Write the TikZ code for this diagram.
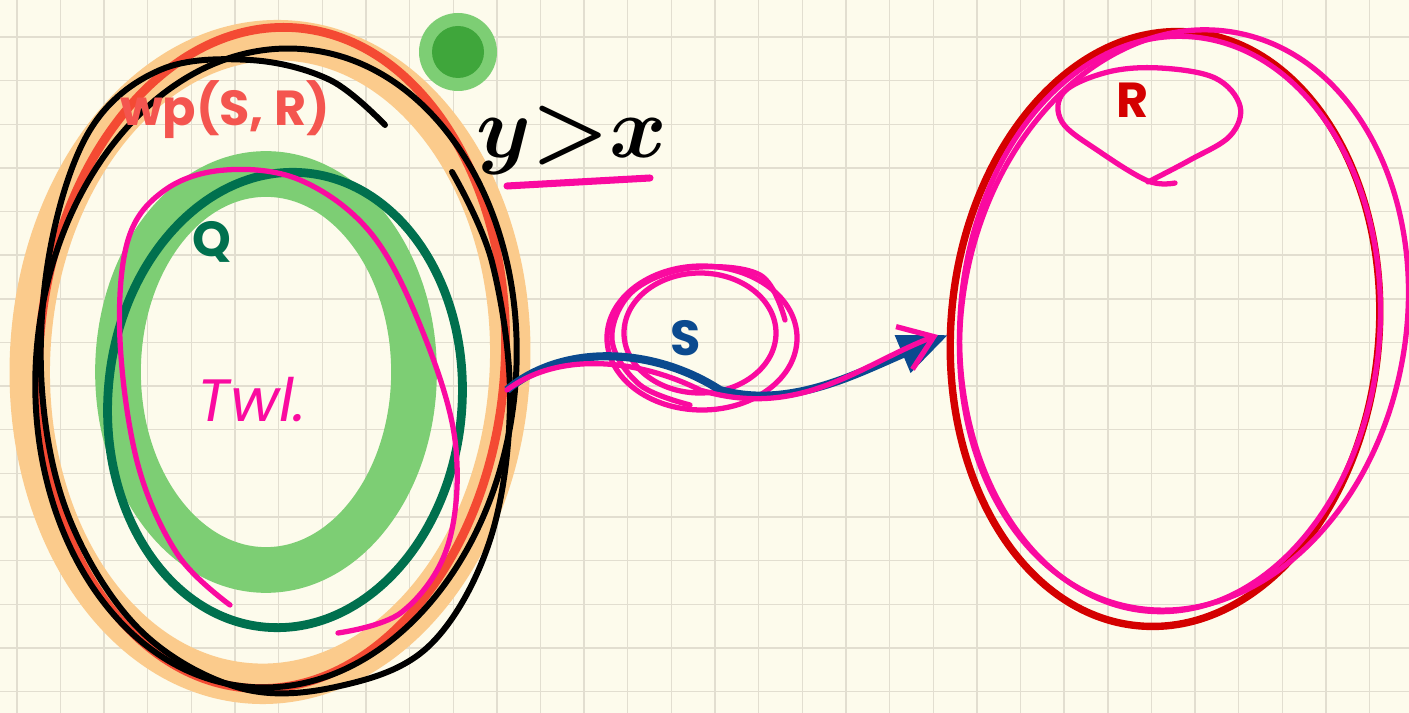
\documentclass[tikz,border=0pt]{standalone}
\usepackage{fontspec}
\setmainfont{Poppins}
\usetikzlibrary{arrows.meta}

\definecolor{paper}{RGB}{253,251,236}
\definecolor{gridgray}{RGB}{226,222,208}
\definecolor{halo}{RGB}{251,203,140}
\definecolor{wpred}{RGB}{244,74,51}
\definecolor{wptext}{RGB}{244,85,79}
\definecolor{lightgreen}{RGB}{125,206,116}
\definecolor{darkgreen}{RGB}{0,112,78}
\definecolor{dotgreen}{RGB}{63,166,59}
\definecolor{pen}{RGB}{250,10,160}
\definecolor{pathblue}{RGB}{11,74,143}
\definecolor{postred}{RGB}{212,0,0}

\begin{document}
\begin{tikzpicture}[
  x=0.01cm, y=-0.01cm,
  gridline/.style={gridgray, line width=0.4pt},
  halo stroke/.style={halo, line width=11.5pt},
  green halo/.style={lightgreen, line width=13pt},
  marker/.style={line width=2.5pt, line cap=round, line join=round},
  pen stroke/.style={pen, line width=1.5pt, line cap=round, line join=round},
  ink/.style={black, line width=1.7pt, line cap=round, line join=round},
  label/.style={font=\fontseries{sb}\selectfont\fontsize{14}{14}\selectfont, inner sep=0pt}
]
  % page and squared paper
  \fill[paper] (0,0) rectangle (1409,713);
  \useasboundingbox (0,0) rectangle (1409,713);
  \foreach \i in {0,...,32}
    \draw[gridline] ({16.8+43.64*\i},0) -- ++(0,713);
  \foreach \j in {0,...,15}
    \draw[gridline] (0,{37+43.64*\j}) -- ++(1409,0);

  % weakest precondition: orange halo, red outline, black scribble
  \draw[halo stroke, rotate around={-3:(270,362)}] (270,362) ellipse [x radius=240, y radius=322];
  \draw[wpred, marker, rotate around={-4:(272,358)}] (272,358) ellipse [x radius=233, y radius=331];
  \draw[ink, rotate around={-5:(276,368)}] (276,368) ellipse [x radius=240, y radius=320];
  \draw[ink] plot[smooth, tension=0.6] coordinates {
    (385,125) (330,80) (250,60) (160,70) (90,130) (50,250) (42,390)
    (70,520) (140,630) (240,688) (340,686) (430,645) (490,540) (510,400)
    (492,262) (452,172)};

  % precondition Q: green halo, dark green outline
  \draw[green halo] (266,372) ellipse [x radius=148, y radius=198];
  \draw[darkgreen, marker, rotate around={-5:(285,400)}] (285,400) ellipse [x radius=177, y radius=228];
  \draw[pen stroke] plot[smooth, tension=0.6] coordinates {
    (230,605) (178,555) (138,465) (120,340) (128,240) (165,190) (225,170)
    (300,180) (370,232) (420,325) (455,440) (448,545) (402,612) (338,633)};

  % green dot
  \fill[lightgreen] (458,52) circle [radius=39];
  \fill[dotgreen] (458,52) circle [radius=26];

  % postcondition R
  \draw[postred, line width=2.1pt, rotate around={-5:(1165,329)}] (1165,329) ellipse [x radius=214, y radius=298];
  \draw[pen stroke, rotate around={-10:(1184,320)}] (1184,320) ellipse [x radius=222, y radius=292];
  \draw[pen stroke, rotate around={-4:(1170,324)}] (1170,324) ellipse [x radius=210, y radius=288];
  \draw[pen stroke] plot[smooth, tension=0.6] coordinates {
    (1175,183) (1148,181) (1100,152) (1062,122) (1064,92) (1108,72) (1160,68)
    (1215,78) (1240,106) (1230,136) (1190,160) (1148,182)};

  % labels
  \node[label, wptext] (wplabel) at (225,110) {wp(S, R)};
  \node[label, darkgreen] (qlabel) at (212,242) {Q};
  \node[label, pen, font=\itshape\fontsize{17}{17}\selectfont] (twlabel) at (252,400) {Twl.};
  \node[label, pathblue] (slabel) at (686,338) {S};
  \node[label, postred] (rlabel) at (1133,100) {R};
  \node[font=\fontsize{28}{28}\selectfont\boldmath, inner sep=0pt] (cond) at (572,140) {$y{>}x$};
  \draw[pen, line width=2pt, line cap=round] (507,186) -- (650,178);

  % scribbles round S
  \draw[pen stroke] (702,338) ellipse [x radius=95, y radius=72];
  \draw[pen stroke] (700,333) ellipse [x radius=76, y radius=60];
  \draw[pen stroke] plot[smooth, tension=0.6] coordinates {
    (690,405) (640,385) (612,340) (632,292) (690,268) (760,275) (785,320)};

  % the program S maps wp(S, R) into R
  \coordinate (pre) at (507,390);
  \coordinate (post) at (948,335);
  \draw[pathblue, line width=2.3pt, -{Triangle[length=14pt, width=11pt]}] (pre)
    .. controls (560,345) and (650,345) .. (720,390)
    .. controls (790,410) and (860,372) .. (post);
  \draw[pen stroke, -{Straight Barb[length=9pt, width=13pt]}] (pre)
    .. controls (560,350) and (640,360) .. (700,390)
    .. controls (800,420) and (860,365) .. ([xshift=-0.1cm]post);
\end{tikzpicture}
\end{document}
